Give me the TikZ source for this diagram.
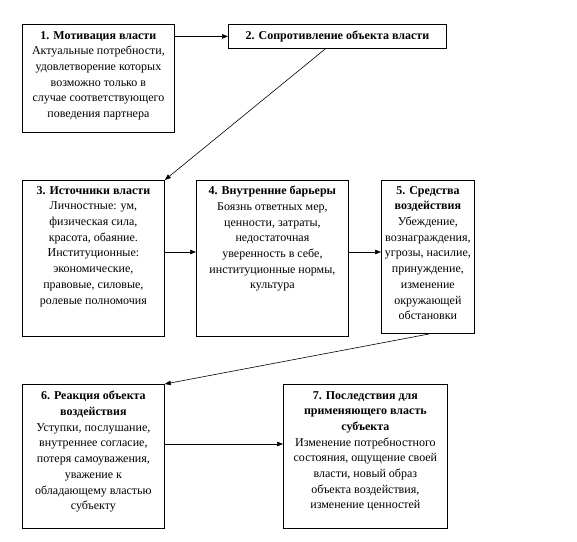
\documentclass[tikz,border=0pt]{standalone}
\usepackage{fontspec}
\setmainfont{Liberation Serif}
\usetikzlibrary{arrows.meta}
\begin{document}
\begin{tikzpicture}[x=1pt,y=-1pt,
  box/.style={draw,line width=0.8pt,anchor=north west,inner sep=0pt},
  txt/.style={anchor=north,align=center,inner sep=0pt,font=\fontsize{12}{15.7}\selectfont},
  arr/.style={line width=0.6pt,-{Triangle[length=6pt,width=4.5pt]}}]
\useasboundingbox (0,0) rectangle (577,541);
\node[box,minimum width=152pt,minimum height=108pt] (b1) at (22,24) {};
\node[box,minimum width=218pt,minimum height=24pt] (b2) at (228,24) {};
\node[box,minimum width=142pt,minimum height=156pt] (b3) at (22,180) {};
\node[box,minimum width=152pt,minimum height=156pt] (b4) at (196,180) {};
\node[box,minimum width=93pt,minimum height=153pt] (b5) at (381,180) {};
\node[box,minimum width=142pt,minimum height=144pt] (b6) at (22,384) {};
\node[box,minimum width=164pt,minimum height=144pt] (b7) at (283,384) {};

\node[txt] (t1) at ([yshift=-7pt]b1.north) {\textbf{1. Мотивация власти}\\Актуальные потребности,\\удовлетворение которых\\возможно только в\\случае соответствующего\\поведения партнера};
\node[txt] (t2) at ([yshift=-7pt]b2.north) {\textbf{2. Сопротивление объекта власти}};
\node[txt] (t3) at ([yshift=-6pt]b3.north) {\textbf{3. Источники власти}\\Личностные: ум,\\физическая сила,\\красота, обаяние.\\Институционные:\\экономические,\\правовые, силовые,\\ролевые полномочия};
\node[txt] (t4) at ([yshift=-6pt]b4.north) {\textbf{4. Внутренние барьеры}\\Боязнь ответных мер,\\ценности, затраты,\\недостаточная\\уверенность в себе,\\институционные нормы,\\культура};
\node[txt] (t5) at ([yshift=-6pt]b5.north) {\textbf{5. Средства}\\\textbf{воздействия}\\Убеждение,\\вознаграждения,\\угрозы, насилие,\\принуждение,\\изменение\\окружающей\\обстановки};
\node[txt] (t6) at ([yshift=-7pt]b6.north) {\textbf{6. Реакция объекта}\\\textbf{воздействия}\\Уступки, послушание,\\внутреннее согласие,\\потеря самоуважения,\\уважение к\\обладающему властью\\субъекту};
\node[txt] (t7) at ([yshift=-7pt]b7.north) {\textbf{7. Последствия для}\\\textbf{применяющего власть}\\\textbf{субъекта}\\Изменение потребностного\\состояния, ощущение своей\\власти, новый образ\\объекта воздействия,\\изменение ценностей};

\draw[arr] (b1.north east |- b2.west) -- (b2.west);
\draw[arr] ([xshift=-12pt]b2.south) -- (b3.north east);
\draw[arr] (b3.east |- 0,252) -- (b4.west |- 0,252);
\draw[arr] (b4.east |- 0,252) -- (b5.west |- 0,252);
\draw[arr] ([xshift=2pt]b5.south) -- (b6.north east);
\draw[arr] (b6.east |- 0,444) -- (b7.west |- 0,444);
\end{tikzpicture}
\end{document}
